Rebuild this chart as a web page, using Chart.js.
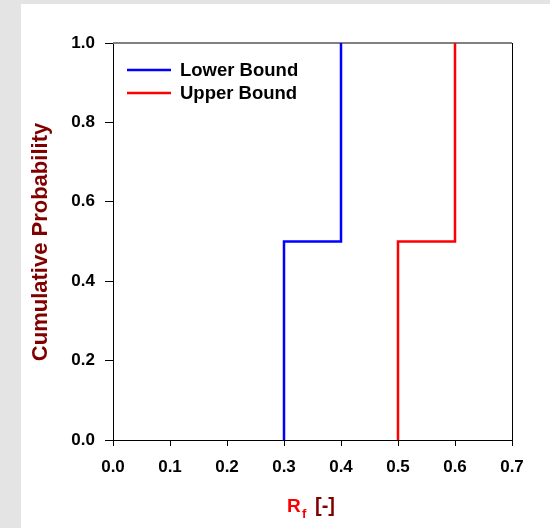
<!DOCTYPE html>
<html>
<head>
<meta charset="utf-8">
<script src="https://cdn.jsdelivr.net/npm/chart.js@4/dist/chart.umd.min.js"></script>
<style>
  html, body { margin: 0; padding: 0; background: #e4e4e4; }
  #wrap { width: 550px; height: 528px; position: relative; }
</style>
</head>
<body>
<div id="wrap"><canvas id="myChart" width="550" height="528"></canvas></div>
<script>
// step curves (corner points)
const lowerX = [0.3, 0.3, 0.4, 0.4];
const lowerY = [0.0, 0.5, 0.5, 1.0];
const upperX = [0.5, 0.5, 0.6, 0.6];
const upperY = [0.0, 0.5, 0.5, 1.0];
const seriesNames = ["Lower Bound", "Upper Bound"];
const xTicks = [0, 0.1, 0.2, 0.3, 0.4, 0.5, 0.6, 0.7];
const yTicks = [0, 0.2, 0.4, 0.6, 0.8, 1.0];

const FONT = "'Liberation Sans', Arial, sans-serif";

function pts(xs, ys) {
  return xs.map((x, i) => ({ x: x, y: ys[i] }));
}

const decor = {
  id: "decor",
  beforeDraw(chart) {
    const c = chart.ctx;
    c.save();
    c.fillStyle = "#e4e4e4";
    c.fillRect(0, 0, chart.width, chart.height);
    c.fillStyle = "#ffffff";
    c.fillRect(21, 4, chart.width - 21, chart.height - 4);
    c.restore();
  },
  beforeDatasetsDraw(chart) {
    const c = chart.ctx;
    const a = chart.chartArea;
    c.save();
    c.strokeStyle = "#808080";
    c.lineWidth = 2;
    c.beginPath();
    c.moveTo(a.left, a.top);
    c.lineTo(a.right, a.top);
    c.stroke();
    c.strokeStyle = "#000";
    c.lineWidth = 1;
    c.beginPath();
    c.moveTo(a.right + 0.5, a.top);
    c.lineTo(a.right + 0.5, a.bottom);
    c.stroke();
    c.restore();
  },
  afterDraw(chart) {
    const c = chart.ctx;
    c.save();
    // legend
    chart.data.datasets.forEach((ds, i) => {
      const y = 70 + i * 23;
      c.strokeStyle = ds.borderColor;
      c.lineWidth = 2.5;
      c.beginPath();
      c.moveTo(127, y);
      c.lineTo(171, y);
      c.stroke();
      c.fillStyle = "#000";
      c.font = "bold 18.5px " + FONT;
      c.textBaseline = "middle";
      c.textAlign = "left";
      c.fillText(ds.label, 180, y + 1);
    });
    // y title
    c.save();
    c.translate(47, 242);
    c.rotate(-Math.PI / 2);
    c.fillStyle = "#800000";
    c.font = "bold 22px " + FONT;
    c.textAlign = "center";
    c.textBaseline = "alphabetic";
    c.fillText("Cumulative Probability", 0, 0);
    c.restore();
    // x title: R_f [-]
    c.textBaseline = "alphabetic";
    c.textAlign = "left";
    c.font = "bold 19px " + FONT;
    c.fillStyle = "#ff0000";
    c.fillText("R", 287, 512);
    c.font = "bold 13px " + FONT;
    c.fillText("f", 302, 518);
    c.font = "bold 20px " + FONT;
    c.fillStyle = "#800000";
    c.fillText("[-]", 315, 512);
    c.restore();
  }
};

new Chart(document.getElementById("myChart"), {
  type: "line",
  data: {
    datasets: [
      {
        label: seriesNames[0],
        data: pts(lowerX, lowerY),
        borderColor: "#0000ff",
        borderWidth: 2.5,
        pointRadius: 0,
        tension: 0
      },
      {
        label: seriesNames[1],
        data: pts(upperX, upperY),
        borderColor: "#ff0000",
        borderWidth: 2.5,
        pointRadius: 0,
        tension: 0
      }
    ]
  },
  options: {
    responsive: false,
    animation: false,
    layout: { padding: { left: 0, top: 43, right: 38, bottom: 0 } },
    plugins: { legend: { display: false }, tooltip: { enabled: false } },
    scales: {
      x: {
        type: "linear",
        min: 0,
        max: 0.7,
        afterFit: (s) => { s.height = 88; },
        afterBuildTicks: (s) => { s.ticks = xTicks.map((v) => ({ value: v })); },
        ticks: {
          color: "#000",
          font: { family: FONT, size: 17, weight: "bold" },
          padding: 11,
          maxRotation: 0,
          callback: (v) => v.toFixed(1)
        },
        grid: { drawOnChartArea: false, drawTicks: true, tickLength: 6, color: "#000" },
        border: { color: "#000", width: 1 }
      },
      y: {
        type: "linear",
        min: 0,
        max: 1,
        afterFit: (s) => { s.width = 113; },
        afterBuildTicks: (s) => { s.ticks = yTicks.map((v) => ({ value: v })); },
        ticks: {
          color: "#000",
          font: { family: FONT, size: 17, weight: "bold" },
          padding: 10,
          callback: (v) => v.toFixed(1)
        },
        grid: { drawOnChartArea: false, drawTicks: true, tickLength: 8, color: "#000" },
        border: { color: "#000", width: 1 }
      }
    }
  },
  plugins: [decor]
});
</script>
</body>
</html>
